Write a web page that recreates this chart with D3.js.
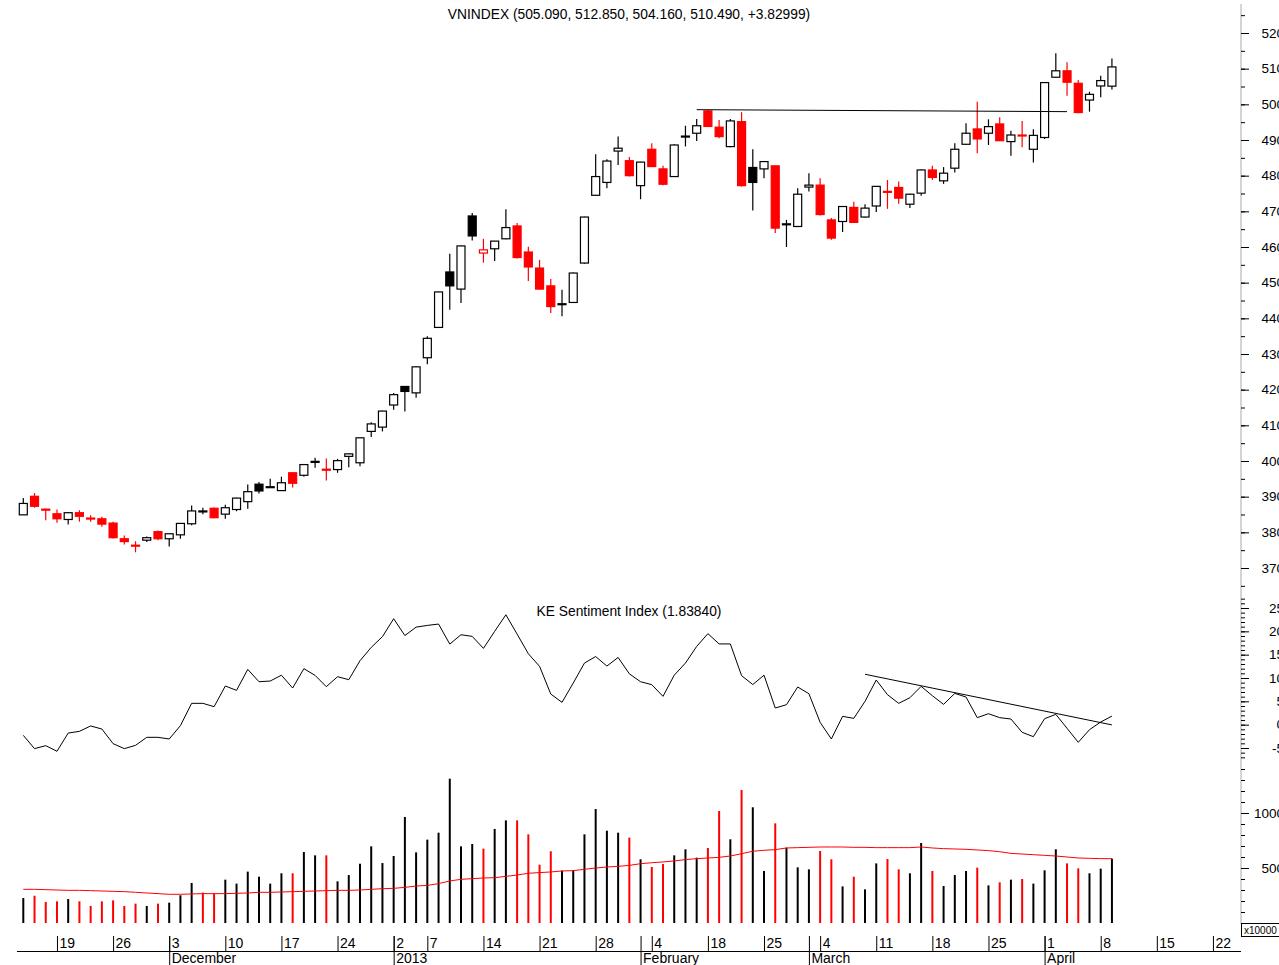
<!DOCTYPE html>
<html>
<head>
<meta charset="utf-8">
<script src="https://cdn.jsdelivr.net/npm/d3@7"></script>
<style>
body { margin: 0; background: #fff; }
svg { display: block; font-family: "Liberation Sans", Arial, sans-serif; }
</style>
</head>
<body>
<div class="chart"></div>
<script>
// VNINDEX daily, 14 Nov 2012 .. 9 Apr 2013 (one entry per trading day)
const open  = [384.9,390.1,386.5,385.2,383.6,385.5,384.0,383.8,382.6,378.2,376.4,377.8,380.2,378.2,379.3,382.4,385.9,386.75,385.1,386.4,
               388.6,393.5,392.6,391.7,396.7,396.0,399.6,397.7,397.6,401.3,399.5,408.3,409.5,415.7,420.9,419.1,428.95,437.45,453.0,448.2,
               468.7,458.3,459.5,462.3,465.9,458.6,454.1,449.1,443.9,444.45,455.5,474.5,478.1,486.9,484.2,477.2,487.4,481.9,479.75,491.0,
               491.9,498.15,493.6,488.15,495.15,482.3,481.9,482.75,466.3,465.75,476.8,477.35,467.6,467.15,471.1,468.4,471.5,475.6,476.7,472.0,
               475.1,481.6,478.55,482.1,488.8,493.1,491.9,494.5,489.55,491.4,487.4,490.7,507.6,509.4,505.9,501.2,505.15,505.09]
const high  = [389.6,391.0,386.6,386.4,385.6,386.2,384.8,384.4,382.95,379.1,377.5,378.8,380.5,379.7,382.6,387.5,386.9,386.95,387.7,389.7,
               393.4,394.1,395.0,395.6,396.8,399.1,400.9,400.7,400.6,402.1,406.6,410.85,414.1,419.1,421.0,426.5,434.95,447.5,458.1,460.4,
               469.5,462.3,461.7,470.6,466.7,460.1,456.4,451.0,448.0,452.85,468.5,486.0,484.6,491.0,485.2,483.9,489.1,482.8,488.8,494.0,
               495.9,498.4,495.6,495.9,497.8,487.4,484.0,482.8,467.6,476.5,480.7,479.3,468.1,471.4,472.7,472.0,477.1,478.8,478.35,474.9,
               481.7,482.8,482.4,489.1,494.7,500.75,495.8,496.4,492.6,495.35,493.0,506.2,514.3,511.8,506.8,503.55,508.0,512.85]
const low   = [384.9,386.9,383.4,382.7,382.2,383.0,382.95,381.55,378.3,376.6,374.4,377.3,377.8,376.0,378.2,382.0,385.1,383.95,383.8,385.9,
               386.6,390.9,392.45,391.6,392.6,395.55,398.1,394.5,396.7,398.25,398.5,406.75,408.3,414.4,413.9,417.7,427.1,437.3,442.4,444.3,
               461.8,455.6,456.05,462.2,456.8,450.5,448.0,441.5,440.6,444.3,455.3,474.4,476.5,483.0,479.75,473.4,482.5,477.3,479.6,488.2,
               489.75,493.7,490.5,488.0,476.95,470.2,479.3,463.9,460.0,465.7,475.55,468.8,462.0,464.2,466.8,468.3,469.8,470.7,472.1,470.9,
               474.4,478.8,477.7,480.9,488.7,486.3,488.6,489.7,485.55,488.0,483.7,490.3,507.5,502.4,497.5,497.95,502.0,504.16]
const close = [388.1,387.3,386.3,383.8,385.5,384.5,383.9,382.3,378.5,377.4,376.2,378.5,378.2,379.6,382.5,386.0,386.0,384.1,386.9,389.6,
               391.4,391.6,392.8,393.9,393.75,399.0,399.9,397.5,400.1,402.0,406.5,410.4,414.0,418.6,419.5,426.4,434.4,447.4,449.1,460.3,
               463.1,459.2,461.65,465.45,457.05,454.4,448.2,443.3,444.1,452.7,468.4,479.75,484.1,487.7,480.0,483.8,482.55,477.6,488.6,491.1,
               494.0,493.8,490.95,495.35,477.2,478.1,483.95,465.3,466.5,474.8,477.35,469.1,462.5,471.35,466.9,470.9,477.0,475.5,473.7,474.8,
               481.6,479.5,480.7,487.4,491.9,490.3,493.75,489.8,491.4,491.15,491.3,506.1,509.4,506.2,497.7,502.8,506.66,510.49]

// volume, x10000
const volume = [227,248,191,197,218,197,155,197,206,155,176,155,176,185,252,364,276,267,394,358,
                467,421,358,452,452,645,615,615,379,436,539,697,545,609,964,642,758,821,1312,697,
                718,676,855,933,933,806,530,652,476,479,806,1036,839,821,776,579,509,536,615,670,
                594,682,1018,761,1209,1052,473,906,685,506,488,655,579,333,421,306,542,582,488,452,
                727,473,336,436,473,503,342,370,394,400,358,479,670,542,497,452,494,585]
const volumeMA = [306,306,303,300,297,297,294,291,288,285,279,273,267,261,261,264,267,267,267,270,
                  273,279,279,282,285,288,291,294,297,297,300,306,312,315,324,336,342,358,382,397,
                  403,409,412,424,436,452,458,464,473,476,488,500,509,515,524,539,548,555,564,576,
                  585,591,597,609,630,652,661,667,682,685,688,691,691,691,688,688,685,685,685,685,
                  691,682,676,673,670,664,658,648,633,627,621,615,609,600,591,588,585,585]

const sentiment = [-2.29,-5.14,-4.5,-5.7,-1.8,-1.43,-0.28,-0.93,-4.07,-5.14,-4.43,-2.71,-2.71,-3.07,-0.21,4.57,4.57,3.85,8.28,7.35,
                   11.85,9.2,9.35,10.6,7.85,12.0,10.56,8.14,10.28,9.64,13.7,16.56,18.85,22.7,19.1,20.9,21.27,21.56,17.27,19.27,
                   18.92,16.35,20.0,23.55,19.4,15.2,12.5,6.57,4.78,8.92,13.2,14.6,12.56,14.4,10.9,9.2,8.57,6.07,10.6,13.2,
                   16.77,19.5,17.3,17.3,10.5,8.6,10.6,3.57,4.28,8.07,6.64,0.5,-3.07,1.78,1.35,5.0,9.57,6.42,4.57,5.78,
                   8.21,6.2,4.35,6.7,5.92,1.5,2.35,1.5,1.21,-1.64,-2.57,1.28,2.21,-0.78,-3.78,-1.07,0.57,1.84]

// drawn trend lines: [dayIndex, value]
const priceLine = [[60, 498.5], [93, 497.95]]
const sentLine = [[75, 10.8], [97, -0.05]]

// time axis (trading-day index)
const dayTickIdx = [3,8,13,18,23,28,33,36,41,46,51,56,61,66,71,76,81,86,91,96,101,106]
const dayTickLabels = ["19","26","3","10","17","24","2","7","14","21","28","4","18","25","4","11","18","25","1","8","15","22"]
const monthTickIdx = [13,33,55,70,91]
const monthLabels = ["December","2013","February","March","April"]

const width = 1279, height = 965
const left = 17, right = 1241
const red = '#ff0000'
const font = '"Liberation Sans", Arial, sans-serif'

const svg = d3.select('.chart')
    .append('svg')
    .attr('width', width)
    .attr('height', height)

svg.append('defs').append('clipPath')
    .attr('id', 'plot')
    .append('rect')
    .attr('x', left).attr('y', 0)
    .attr('width', right - left).attr('height', height)

const x = d3.scaleLinear()
    .domain([0, 106])
    .range([23.3, 23.3 + 106 * 11.223])

const yPrice = d3.scaleLinear().domain([370, 520]).range([568, 33])
const ySent = d3.scaleLinear().domain([-5, 25]).range([748, 608])
const yVol = d3.scaleLinear().domain([0, 1000]).range([923, 813])

const days = d3.range(close.length)
const upDay = i => i === 0 || close[i] >= close[i - 1]
const candleColor = i => upDay(i) ? '#000' : red
const volColor = i => (i === 0 || close[i] > close[i - 1]) ? '#000' : red

const plot = svg.append('g').attr('clip-path', 'url(#plot)')

// titles
svg.append('text')
    .attr('x', 629).attr('y', 19)
    .attr('text-anchor', 'middle')
    .attr('font-size', 13.8)
    .text('VNINDEX (505.090, 512.850, 504.160, 510.490, +3.82999)')

svg.append('text')
    .attr('x', 629).attr('y', 616)
    .attr('text-anchor', 'middle')
    .attr('font-size', 13.8)
    .text('KE Sentiment Index (1.83840)')

// candles
const candles = plot.selectAll('g.candle')
    .data(days)
    .enter()
    .append('g')
    .attr('class', 'candle')

candles.append('line')
    .attr('x1', i => x(i)).attr('x2', i => x(i))
    .attr('y1', i => yPrice(high[i]))
    .attr('y2', i => yPrice(low[i]))
    .attr('stroke', candleColor)
    .attr('stroke-width', 1.2)

candles.append('rect')
    .attr('x', i => x(i) - 4)
    .attr('width', 8)
    .attr('y', i => yPrice(Math.max(open[i], close[i])))
    .attr('height', i => Math.max(1, Math.abs(yPrice(open[i]) - yPrice(close[i]))))
    .attr('fill', i => close[i] >= open[i] ? '#fff' : candleColor(i))
    .attr('stroke', candleColor)
    .attr('stroke-width', 1.2)

plot.append('line')
    .attr('x1', x(priceLine[0][0])).attr('y1', yPrice(priceLine[0][1]))
    .attr('x2', x(priceLine[1][0])).attr('y2', yPrice(priceLine[1][1]))
    .attr('stroke', '#000')

// sentiment
plot.append('path')
    .datum(sentiment)
    .attr('fill', 'none')
    .attr('stroke', '#000')
    .attr('stroke-width', 1)
    .attr('d', d3.line().x((d, i) => x(i)).y(d => ySent(d)))

plot.append('line')
    .attr('x1', x(sentLine[0][0])).attr('y1', ySent(sentLine[0][1]))
    .attr('x2', x(sentLine[1][0])).attr('y2', ySent(sentLine[1][1]))
    .attr('stroke', '#000')

// volume
plot.selectAll('line.vol')
    .data(days)
    .enter()
    .append('line')
    .attr('class', 'vol')
    .attr('x1', i => x(i)).attr('x2', i => x(i))
    .attr('y1', yVol(0))
    .attr('y2', i => yVol(volume[i]))
    .attr('stroke', volColor)
    .attr('stroke-width', 2)

plot.append('path')
    .datum(volumeMA)
    .attr('fill', 'none')
    .attr('stroke', red)
    .attr('stroke-width', 1)
    .attr('d', d3.line().x((d, i) => x(i)).y(d => yVol(d)))

// right-hand axes
svg.append('line')
    .attr('x1', right).attr('x2', right)
    .attr('y1', 4).attr('y2', 924)
    .attr('stroke', '#aaa')

function rightAxis(scale, minor, major) {
    const g = svg.append('g').attr('transform', `translate(${right},0)`)
    g.append('g')
        .call(d3.axisRight(scale).tickValues(minor).tickSize(4).tickFormat(''))
    const m = g.append('g')
        .call(d3.axisRight(scale).tickValues(major).tickSize(8).tickFormat(d => String(d)))
    g.selectAll('.domain').remove()
    g.selectAll('.tick line').attr('stroke', '#000')
    m.selectAll('text')
        .attr('x', 43)
        .attr('text-anchor', 'end')
        .attr('font-size', 13.5)
        .attr('font-family', font)
        .attr('fill', '#000')
}

rightAxis(yPrice, d3.range(365, 526, 5), d3.range(370, 521, 10))
rightAxis(ySent, d3.range(-7, 28), d3.range(-5, 26, 5))
rightAxis(yVol, d3.range(0, 1500, 100), [500, 1000])

svg.append('rect')
    .attr('x', right + 0.5).attr('y', 923.5)
    .attr('width', 40).attr('height', 13)
    .attr('fill', '#fff')
    .attr('stroke', '#000')
svg.append('text')
    .attr('x', right + 3).attr('y', 934)
    .attr('font-size', 10)
    .text('x10000')

// time axis
svg.append('line')
    .attr('x1', left).attr('x2', right)
    .attr('y1', 951.5).attr('y2', 951.5)
    .attr('stroke', '#000')

const dayAxis = svg.append('g')
    .attr('transform', 'translate(0,951)')
    .call(d3.axisTop(x).tickValues(dayTickIdx).tickSize(15).tickFormat((d, i) => dayTickLabels[i]))

const monthTop = svg.append('g')
    .attr('transform', 'translate(0,951)')
    .call(d3.axisTop(x).tickValues(monthTickIdx).tickSize(15).tickFormat(''))

const monthAxis = svg.append('g')
    .attr('transform', 'translate(0,951)')
    .call(d3.axisBottom(x).tickValues(monthTickIdx).tickSize(14).tickFormat((d, i) => monthLabels[i]))

svg.selectAll('.domain').remove()
;[dayAxis, monthTop, monthAxis].forEach(g => {
    g.selectAll('.tick line').attr('stroke', '#000')
    g.selectAll('text')
        .attr('font-size', 14)
        .attr('font-family', font)
        .attr('fill', '#000')
        .attr('text-anchor', 'start')
        .attr('x', 2)
        .attr('dy', 0)
})
dayAxis.selectAll('text').attr('y', -3)
monthAxis.selectAll('text').attr('y', 12)
</script>
</body>
</html>
